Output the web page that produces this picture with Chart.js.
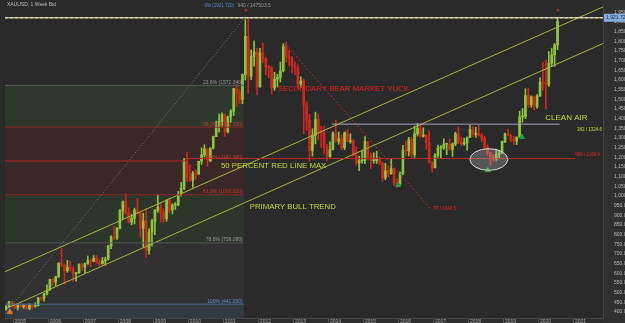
<!DOCTYPE html>
<html>
<head>
<meta charset="utf-8">
<script src="https://cdn.jsdelivr.net/npm/chart.js@4"></script>
<style>
html,body{margin:0;padding:0;background:#2a2a2a;overflow:hidden}
</style>
</head>
<body>
<canvas id="myChart" width="625" height="323"></canvas>
<script>
//DATA - XAUUSD monthly candles, Oct 2004 .. Jul 2020
const firstMonth=2004+9/12
const openP=[
415,429,453,
438,422,435,428,435,417,435,429,433,473,470,495,
513,568,556,582,654,643,614,633,623,599,604,646,
632,650,665,662,679,657,650,666,672,743,789,783,
834,923,971,916,865,885,928,912,833,871,718,814,
869,927,942,916,883,979,927,954,955,1008,1040,1182,
1096,1081,1118,1113,1180,1213,1244,1181,1248,1307,1359,1386,
1421,1332,1410,1439,1556,1536,1500,1628,1826,1620,1722,1746,
1565,1740,1710,1669,1664,1560,1604,1614,1648,1773,1719,1713,
1675,1663,1579,1596,1472,1392,1234,1313,1396,1327,1323,1253,
1202,1240,1326,1284,1296,1250,1327,1282,1287,1211,1171,1182,
1184,1283,1213,1183,1183,1190,1172,1095,1132,1115,1142,1065,
1061,1118,1238,1233,1293,1215,1322,1351,1309,1316,1277,1173,
1146,1211,1249,1249,1268,1268,1242,1269,1322,1280,1271,1275,
1303,1345,1318,1325,1315,1299,1253,1224,1201,1192,1215,1222,
1282,1321,1313,1292,1284,1305,1409,1413,1520,1472,1513,1464,
1517,1589,1585,1577,1687,1730,1781]
const highP=[
432,456,456,
443,438,446,438,436,443,438,448,476,479,497,541,
571,574,586,654,730,646,668,663,636,606,649,652,
653,690,672,692,693,672,683,684,745,795,845,838,
931,975,1011,939,905,938,988,917,911,935,831,880,
930,1007,963,935,980,990,960,966,1025,1071,1195,1227,
1162,1128,1135,1180,1249,1265,1245,1250,1310,1388,1424,1431,
1424,1411,1447,1557,1577,1552,1632,1912,1921,1756,1803,1764,
1764,1791,1719,1676,1669,1640,1630,1693,1788,1796,1755,1723,
1696,1679,1617,1605,1488,1423,1348,1434,1425,1361,1362,1267,
1280,1332,1392,1331,1315,1332,1345,1322,1292,1255,1207,1238,
1307,1283,1224,1224,1232,1205,1174,1170,1157,1191,1143,1088,
1125,1263,1283,1304,1304,1362,1375,1367,1353,1318,1337,1180,
1220,1264,1261,1296,1272,1296,1275,1331,1358,1306,1299,1306,
1366,1361,1356,1366,1326,1309,1266,1227,1214,1243,1237,1284,
1326,1347,1320,1310,1306,1439,1453,1555,1557,1518,1516,1525,
1611,1689,1704,1747,1765,1789,1921]
const lowP=[
410,423,431,
418,411,424,419,415,413,418,426,432,460,457,489,
513,538,535,580,637,543,606,612,560,560,600,614,
602,647,636,660,652,638,648,642,670,728,775,776,
830,880,902,860,851,856,908,786,735,681,700,741,
800,916,865,865,870,913,908,931,950,1000,1035,1075,
1075,1045,1088,1113,1164,1202,1155,1179,1243,1307,1330,1360,
1309,1327,1381,1417,1462,1478,1478,1600,1532,1602,1672,1523,
1562,1688,1627,1613,1527,1547,1564,1590,1642,1693,1672,1635,
1626,1555,1562,1321,1338,1180,1207,1270,1291,1251,1221,1182,
1203,1238,1277,1268,1240,1240,1281,1273,1206,1160,1131,1170,
1167,1191,1142,1170,1169,1162,1077,1084,1098,1113,1052,1046,
1061,1110,1208,1207,1200,1200,1310,1302,1305,1241,1171,1122,
1146,1200,1194,1241,1214,1237,1205,1260,1271,1260,1263,1237,
1302,1307,1303,1310,1282,1245,1211,1160,1180,1182,1196,1221,
1276,1311,1281,1266,1266,1306,1382,1400,1459,1459,1445,1453,
1517,1548,1451,1567,1670,1671,1757]
const closeP=[
429,453,438,
422,435,428,435,417,435,429,433,473,470,495,513,
568,556,582,654,643,614,633,623,599,604,646,632,
650,665,662,679,657,650,666,672,743,789,783,834,
923,971,916,865,885,928,912,833,871,718,814,869,
927,942,916,883,979,927,954,955,1008,1040,1182,1096,
1081,1118,1113,1180,1213,1244,1181,1248,1307,1359,1386,1421,
1332,1410,1439,1556,1536,1500,1628,1826,1620,1722,1746,1565,
1740,1710,1669,1664,1560,1604,1614,1648,1773,1719,1713,1675,
1663,1579,1596,1472,1392,1234,1313,1396,1327,1323,1253,1202,
1240,1326,1284,1296,1250,1327,1282,1287,1211,1171,1182,1184,
1283,1213,1183,1183,1190,1172,1095,1132,1115,1142,1065,1061,
1118,1238,1233,1293,1215,1322,1351,1309,1316,1277,1173,1146,
1211,1249,1249,1268,1268,1242,1269,1322,1280,1271,1275,1303,
1345,1318,1325,1315,1299,1253,1224,1201,1192,1215,1222,1282,
1321,1313,1292,1284,1305,1409,1413,1520,1472,1513,1464,1517,
1589,1585,1577,1687,1730,1781,1905]

// fibonacci retracement (2004 low -> 2011 high)
const fibNames=["0%","23.6%","38.2%","50%","61.8%","78.6%","100%"]
const fibValues=[1921.72,1572.34,1356.15,1181.39,1006.62,758.08,441.05]
const fibEnd=2011.58

// trend lines [x1,y1,x2,y2]
const upperChannel=[2004.76,609,2021.84,1978]
const lowerChannel=[2004.76,415,2021.84,1789]
const peakLine=[2004.76,390,2011.6,1921.72]
const bearLine=[2012.78,1784,2016.94,929]
const cleanAirLine=[2014.1,1372,2020.6,1372]
const redLine=[2009.9,1194,2021.05,1194]

const arrowsUp=[[2015.99,1057],[2018.55,1133],[2019.52,1306]]
const yearTicks=[2005,2006,2007,2008,2009,2010,2011,2012,2013,2014,2015,2016,2017,2018,2019,2020,2021]

//COLORES
const UP="#8cc63f"
const DOWN="#d3261d"
const LIME="#c3dc3a"

//FUNCIONES
function monthX(i){ return firstMonth+(i+0.5)/12 }
function seg(a){ return [{x:a[0],y:a[1]},{x:a[2],y:a[3]}] }

const wicks=[], bodies=[], colors=[]
for (let i=0;i<closeP.length;i++) {
    wicks.push({x:monthX(i),y:[lowP[i],highP[i]]})
    bodies.push({x:monthX(i),y:[openP[i],closeP[i]]})
    colors.push(closeP[i]>=openP[i]?UP:DOWN)
}

function lineDs(a,color,dash,width){
    return {type:"line",data:seg(a),borderColor:color,borderWidth:width||1,borderDash:dash||[],
        pointRadius:0,fill:false,order:0,clip:true}
}

function noPad(s){ s.paddingTop=0; s.paddingBottom=0; s.paddingLeft=0; s.paddingRight=0 }

const extras={
    id:"extras",
    beforeDraw(chart){
        const c=chart.ctx
        c.save()
        c.fillStyle="#2a2a2a"
        c.fillRect(0,0,chart.width,chart.height)
        c.fillStyle="#303030"
        c.fillRect(chart.chartArea.right,0,chart.width-chart.chartArea.right,chart.height)
        c.fillStyle="#2d2d2d"
        c.fillRect(0,chart.chartArea.bottom,chart.chartArea.right,chart.height)
        c.restore()
    },
    beforeDatasetsDraw(chart){
        const c=chart.ctx, xs=chart.scales.x, ys=chart.scales.y
        const x0=chart.chartArea.left, x1=xs.getPixelForValue(fibEnd)
        // fill of the band that ends at each level
        const fills=[null,null,"#2e382c","#3a2828","#3a2828","#2c362b","#313131"]
        c.save()
        for (let i=1;i<fibValues.length;i++) {
            const yt=ys.getPixelForValue(fibValues[i-1]), yb=ys.getPixelForValue(fibValues[i])
            if (fills[i]) { c.fillStyle=fills[i]; c.fillRect(x0,yt,x1-x0,yb-yt) }
        }
        c.fillStyle="#343a40"
        const y100=ys.getPixelForValue(fibValues[6])
        c.fillRect(x0,y100,x1-x0,chart.chartArea.bottom-y100)
        c.restore()
    },
    afterDatasetsDraw(chart){
        const c=chart.ctx, xs=chart.scales.x, ys=chart.scales.y
        const px=v=>xs.getPixelForValue(v), py=v=>ys.getPixelForValue(v)
        c.save()
        // ellipse round the 2018 low
        c.beginPath()
        c.ellipse(px(2018.58),py(1189),px(2019.12)-px(2018.58),py(1189)-py(1245),0,0,Math.PI*2)
        c.fillStyle="rgba(190,190,190,0.3)"
        c.fill()
        c.strokeStyle="#d8d8d8"
        c.lineWidth=1
        c.stroke()

        const txt=(t,x,y,color,size,align,bold)=>{
            c.font=(bold?"bold ":"")+size+"px 'Liberation Sans', Arial, sans-serif"
            c.fillStyle=color
            c.textAlign=align||"left"
            c.textBaseline="middle"
            c.fillText(t,x,y)
        }
        // fib labels
        const fibCol=["#5f8fd0","#9a9a9a","#c0392b","#c0392b","#c0392b","#9a9a9a","#5f8fd0"]
        for (let i=1;i<fibValues.length;i++) {
            txt(fibNames[i]+" ("+fibValues[i].toFixed(3)+")",px(fibEnd)-1,py(fibValues[i])-3,fibCol[i],5,"right")
        }
        txt("0% (1921.720)",px(2011.3),6,"#5f8fd0",4.5,"right")
        txt("940 / 147503.5",px(2011.4),6,"#9a9a9a",5,"left")
        txt("XAUUSD, 1 Week Bid",7,5,"#bdbdbd",5,"left")

        txt("SECONDARY BEAR MARKET YUCK",px(2012.55),py(1555),"#e8221b",7.8,"left")
        txt("50 PERCENT RED LINE MAX",px(2010.93),py(1158),LIME,7.8,"left")
        txt("PRIMARY BULL TREND",px(2011.75),py(945),LIME,7.8,"left")
        txt("CLEAN AIR",px(2020.19),py(1405),LIME,8,"left")
        txt("382 / 1324.6",px(2021.1),py(1345),LIME,4.5,"left")
        txt("888 / 1166.4",px(2021.05),py(1213),"#e8221b",4.5,"left")
        txt("TP / 1046.5",px(2016.98),py(935),"#e8221b",4.5,"left")

        // price box on the axis
        const yb=py(fibValues[0])
        c.fillStyle="#86aee0"
        c.fillRect(chart.chartArea.right+1,yb-4,chart.width-chart.chartArea.right-1,8)
        txt("1,921.72",chart.chartArea.right+3,yb,"#1e2a3a",5,"left")
        c.restore()
    }
}

const datasets=[
    lineDs([2004.76,1921.72,2021.84,1921.72],"#f2f2f2",[],1),
    lineDs([2004.76,1921.72,2021.84,1921.72],"#f0e010",[3,2],1),
    lineDs([2004.76,fibValues[1],fibEnd,fibValues[1]],"#5a5a5a"),
    lineDs([2004.76,fibValues[2],fibEnd,fibValues[2]],"#8a2a24"),
    lineDs([2004.76,fibValues[4],fibEnd,fibValues[4]],"#8a2a24"),
    lineDs([2004.76,fibValues[5],fibEnd,fibValues[5]],"#555555"),
    lineDs([2004.76,fibValues[6],fibEnd,fibValues[6]],"#4a6a90"),
    lineDs(redLine,"#b52a22"),
    lineDs([2004.76,fibValues[3],2009.9,fibValues[3]],"#b52a22"),
    lineDs(cleanAirLine,"#a9a3c4"),
    lineDs(upperChannel,"#a8b83a"),
    lineDs(lowerChannel,"#a8b83a"),
    lineDs(peakLine,"#7a7a7a",[1,2]),
    lineDs(bearLine,"#c0302a",[2,2]),
    {type:"bar",data:wicks,backgroundColor:colors,barThickness:1,grouped:false,order:2},
    {type:"bar",data:bodies,backgroundColor:colors,barThickness:2,minBarLength:1,grouped:false,order:1},
    {type:"scatter",data:arrowsUp.map(p=>({x:p[0],y:p[1]})),pointStyle:"triangle",pointRadius:3,
        backgroundColor:"#22a03a",borderColor:"#22a03a",order:0},
    {type:"scatter",data:[{x:2004.9,y:400}],pointStyle:"triangle",pointRadius:3,
        backgroundColor:"#e07a2a",borderColor:"#e07a2a",order:0},
    {type:"scatter",data:[{x:2011.64,y:1962},{x:2020.55,y:1962}],pointStyle:"rect",pointRadius:1,
        backgroundColor:"#c0302a",borderColor:"#c0302a",order:0}
]

const myChart=document.querySelector("#myChart")
myChart.chart=new Chart(myChart,{
    type:"bar",
    data:{datasets},
    options:{
        responsive:false,
        animation:false,
        events:[],
        layout:{padding:0},
        plugins:{legend:{display:false},tooltip:{enabled:false}},
        scales:{
            x:{
                type:"linear",min:2004.76,max:2021.84,offset:false,
                afterBuildTicks:s=>{ s.ticks=yearTicks.map(v=>({value:v})) },
                afterFit:s=>{ s.height=5; noPad(s) },
                grid:{drawOnChartArea:false,drawTicks:true,tickLength:5,color:"#555",offset:false},
                border:{color:"#444"},
                ticks:{align:"start",padding:-4,color:"#aaa",font:{size:5,family:"Liberation Sans"},
                    maxRotation:0,autoSkip:false,callback:v=>" "+v}
            },
            y:{
                type:"linear",position:"right",min:369.5,max:1988,
                afterFit:s=>{ s.width=22; noPad(s) },
                grid:{display:false},
                border:{color:"#444"},
                ticks:{stepSize:50,includeBounds:false,padding:3,color:"#bbb",
                    font:{size:5,family:"Liberation Sans"},
                    callback:v=>v.toLocaleString("en-US",{minimumFractionDigits:2})}
            }
        }
    },
    plugins:[extras]
})
</script>
</body>
</html>
